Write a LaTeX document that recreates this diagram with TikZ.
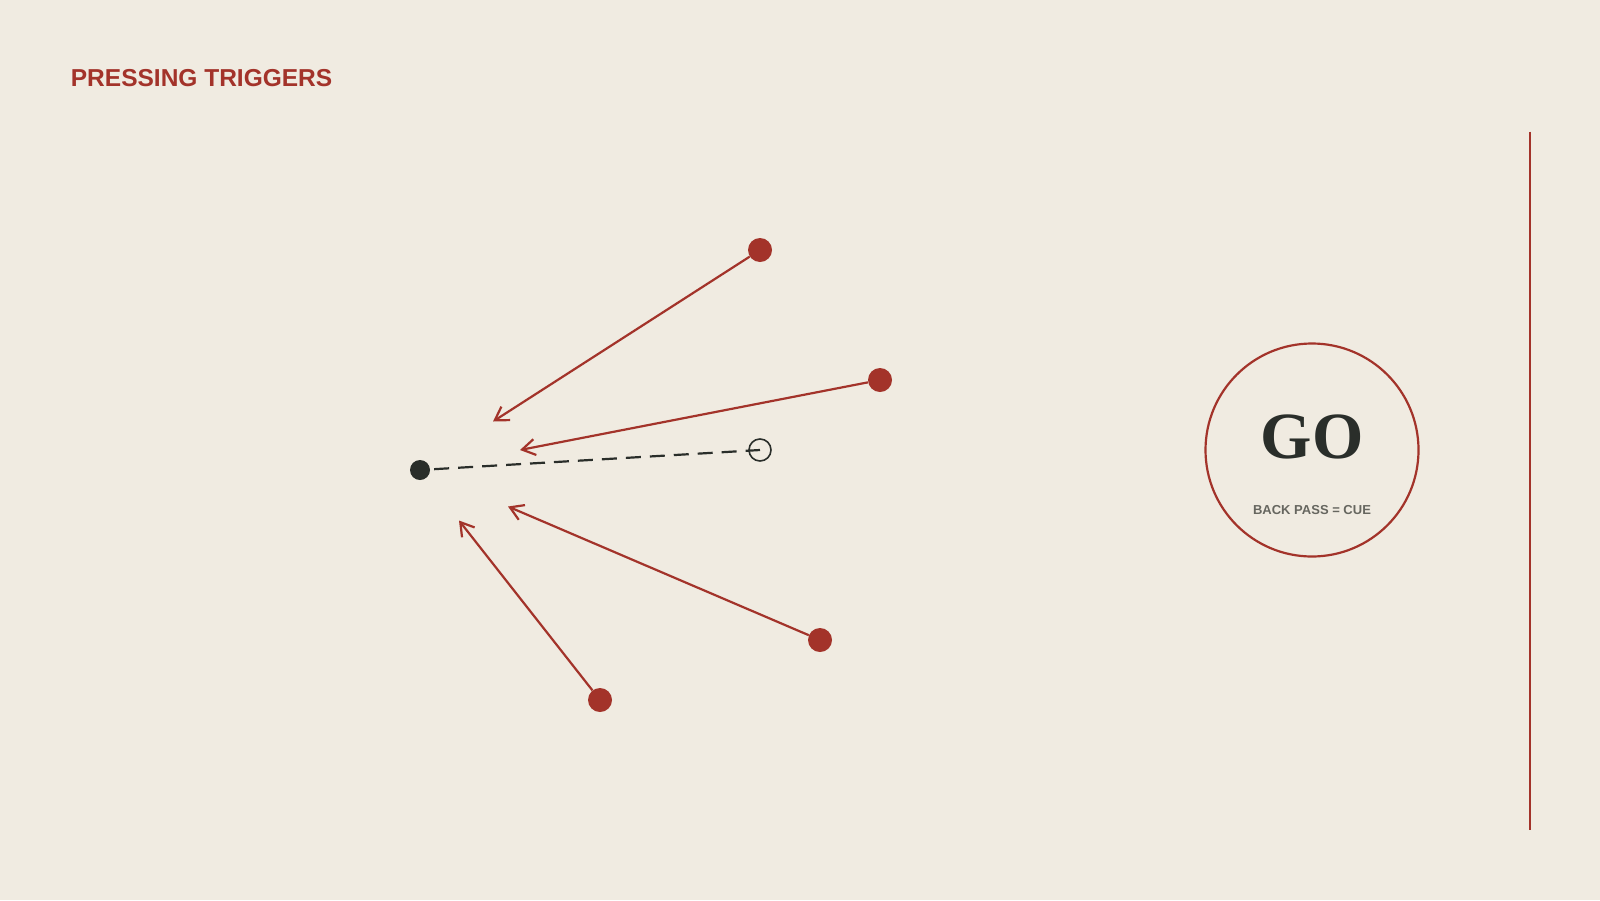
\documentclass[tikz,border=0pt]{standalone}
\usepackage{fontspec}
\setmainfont{Liberation Serif}
\setsansfont{Liberation Sans}
\usetikzlibrary{arrows.meta}
\usetikzlibrary{positioning}

\definecolor{paper}{HTML}{F0EBE1}
\definecolor{brick}{HTML}{A3332A}
\definecolor{ink}{HTML}{2A2E2A}
\definecolor{slate}{HTML}{66665F}

\begin{document}
\begin{tikzpicture}[
	x=1pt, y=-1pt,
  > = {Straight Barb[length=13pt,width=16pt,line width=2.2pt]},
  dot/.style = {fill,circle,inner sep=0pt,minimum size=24pt},
  press/.style = {->,draw=brick,line width=2.2pt},
  pass/.style = {draw=ink,line width=2.2pt,dash pattern=on 15pt off 9pt,dash phase=-4pt}
  ]
	\useasboundingbox[fill=paper] (0,0) rectangle (1600,900);

	\node[anchor=base west,text=brick,font=\sffamily\bfseries\fontsize{24.5}{28}\selectfont,inner sep=0pt] (title) at (70.7,86.7) {PRESSING TRIGGERS};

	\coordinate (@t1) at (493,421.5);
	\coordinate (@t2) at (520,450);
	\coordinate (@t3) at (508,506.5);
	\coordinate (@t4) at (459,520.5);

	\node[dot,fill=ink,minimum size=20pt] (carrier) at (420,470) {};
	\node[circle,draw=ink,line width=1.6pt,inner sep=0pt,minimum size=22pt] (ball) at (760,450) {};

	\node[dot,fill=brick] (r1) at (760,250) {};
	\node[dot,fill=brick] (r2) at (880,380) {};
	\node[dot,fill=brick] (r3) at (820,640) {};
	\node[dot,fill=brick] (r4) at (600,700) {};

  	\draw[pass] (carrier) -- (ball.center);

	\draw[press] (r1) -- (@t1);
	\draw[press] (r2) -- (@t2);
	\draw[press] (r3) -- (@t3);
	\draw[press] (r4) -- (@t4);

	\node[circle,draw=brick,line width=2.2pt,minimum size=213pt,inner sep=0pt] (cue) at (1312,450) {};
	\node[anchor=base,text=ink,font=\rmfamily\bfseries\fontsize{66}{70}\selectfont,inner sep=0pt] (go) at (1312,458) {GO};
	\node[anchor=base,text=slate,font=\sffamily\bfseries\fontsize{13}{15}\selectfont,inner sep=0pt] (rule) at (1312,514) {BACK PASS = CUE};

	\coordinate (@top) at (1530,131.5);
	\coordinate (@bot) at (1530,829.5);
	\draw[brick,line width=2.5pt] (@top) -- (@bot);

\end{tikzpicture}
\end{document}
